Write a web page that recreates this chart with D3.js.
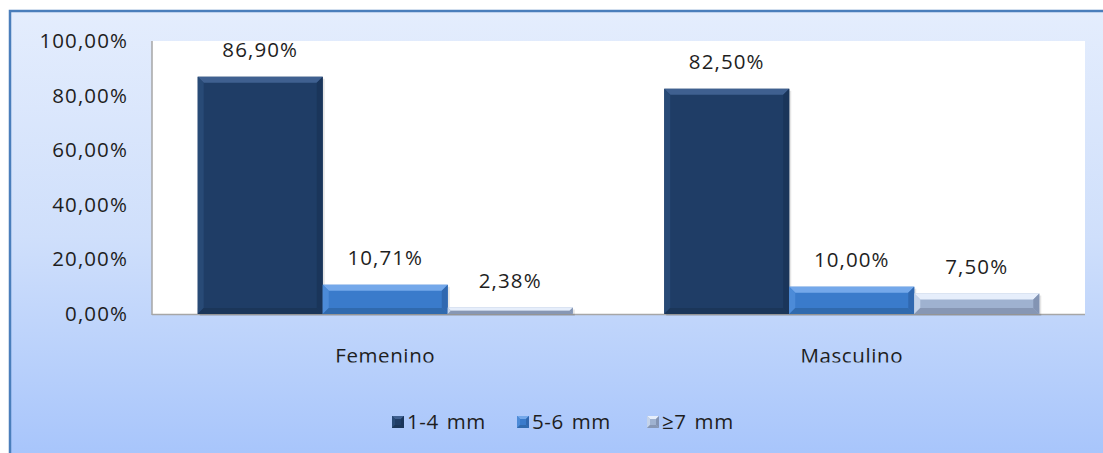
<!DOCTYPE html>
<html><head><meta charset="utf-8">
<script src="https://cdn.jsdelivr.net/npm/d3@7/dist/d3.min.js"></script>
<style>html,body{margin:0;padding:0;background:#fff;overflow:hidden}</style>
</head><body>
<svg id="c" width="1103" height="453"></svg>
<script>
const categories = ["Femenino", "Masculino"];
const seriesNames = ["1-4 mm", "5-6 mm", "≥7 mm"];
const s1 = [86.90, 82.50];
const s2 = [10.71, 10.00];
const s3 = [2.38, 7.50];
const seriesValues = [s1, s2, s3];
const yTicks = [0, 20, 40, 60, 80, 100];

const svg = d3.select("#c");
const W = 1103, H = 453;
const font = "'Open Sans','Liberation Sans',sans-serif";
const txtCol = "#1e1e1e";

const defs = svg.append("defs");
const bg = defs.append("linearGradient").attr("id","bg").attr("x1",0).attr("y1",0).attr("x2",0).attr("y2",1);
bg.append("stop").attr("offset","0%").attr("stop-color","#e4edfd");
bg.append("stop").attr("offset","50%").attr("stop-color","#cfdffb");
bg.append("stop").attr("offset","100%").attr("stop-color","#a6c4fb");

// frame
svg.append("rect").attr("x",10).attr("y",11).attr("width",W).attr("height",H)
  .attr("fill","url(#bg)").attr("stroke","#4a7ebb").attr("stroke-width",2.5);

const m = {left:152, right:1085, top:41, bottom:314};
const x0 = d3.scaleBand().domain(categories).range([m.left, m.right]).paddingInner(0.196).paddingOuter(0.098);
const x1 = d3.scaleBand().domain(d3.range(3)).range([0, x0.bandwidth()]);
const y = d3.scaleLinear().domain([0,100]).range([m.bottom, m.top]);

// plot area
svg.append("rect").attr("x",m.left).attr("y",m.top).attr("width",m.right-m.left).attr("height",m.bottom-m.top).attr("fill","#ffffff");

const fmt = v => d3.format(".2f")(v).replace(".", ",") + "%";

// y axis labels
const yAxis = d3.axisLeft(y).tickValues(yTicks).tickSize(0).tickPadding(24).tickFormat(fmt);
const ga = svg.append("g").attr("transform",`translate(${m.left},0)`).call(yAxis);
ga.select(".domain").remove();
ga.selectAll("text").attr("font-family",font).attr("font-size",20.5).attr("fill",txtCol)
  .attr("letter-spacing","1.1px");

// axis lines
svg.append("line").attr("x1",m.left).attr("x2",m.left).attr("y1",m.top).attr("y2",m.bottom+1)
  .attr("stroke","#a6a6a6").attr("stroke-width",1.5);
svg.append("line").attr("x1",m.left).attr("x2",m.right).attr("y1",m.bottom+0.5).attr("y2",m.bottom+0.5)
  .attr("stroke","#a6a6a6").attr("stroke-width",1.5);

const pal = [
  {base:"#1f3d66", top:"#3f6090", left:"#284a76", right:"#1a355a", bottom:"#1b3659"},
  {base:"#3a7bcb", top:"#74a8ea", left:"#4c8bd8", right:"#3068b0", bottom:"#306aae"},
  {base:"#9fb2d0", top:"#e6eefb", left:"#c4d3ea", right:"#8394b3", bottom:"#8797b4"}
];

function bevelBar(g, bx, by, bw, bh, c, bev) {
  const b = Math.min(bev, bh/2, bw/2);
  g.append("rect").attr("x",bx).attr("y",by).attr("width",bw).attr("height",bh).attr("fill",c.base);
  const X0=bx, X1=bx+bw, Y0=by, Y1=by+bh;
  const poly = (pts, fill) => g.append("polygon").attr("points", pts.map(p=>p.join(",")).join(" ")).attr("fill",fill);
  poly([[X0,Y0],[X1,Y0],[X1-b,Y0+b],[X0+b,Y0+b]], c.top);
  poly([[X0,Y0],[X0+b,Y0+b],[X0+b,Y1-b],[X0,Y1]], c.left);
  poly([[X1,Y0],[X1,Y1],[X1-b,Y1-b],[X1-b,Y0+b]], c.right);
  poly([[X0,Y1],[X0+b,Y1-b],[X1-b,Y1-b],[X1,Y1]], c.bottom);
}

const gb = svg.append("g");
categories.forEach((cat, ci) => {
  seriesValues.forEach((vals, si) => {
    const v = vals[ci];
    const bx = x0(cat) + x1(si);
    const bw = x1.bandwidth();
    const by = y(v);
    const bh = y(0) - y(v);
    gb.append("rect").attr("x",bx+2).attr("y",by+2).attr("width",bw).attr("height",bh).attr("fill","#000").attr("opacity",0.1);
    bevelBar(gb, bx, by, bw, bh, pal[si], 6);
    gb.append("text").attr("x",bx+bw/2).attr("y",by-27).attr("dy","0.35em").attr("text-anchor","middle")
      .attr("font-family",font).attr("font-size",20.5).attr("fill",txtCol).attr("letter-spacing","1.1px")
      .text(fmt(v));
  });
});

// category labels (clipped at bottom as in reference)
defs.append("clipPath").attr("id","catclip").append("rect").attr("x",0).attr("y",0).attr("width",W).attr("height",362.5);
const gx = svg.append("g").attr("clip-path","url(#catclip)");
categories.forEach(cat => {
  gx.append("text").attr("x",x0(cat)+x0.bandwidth()/2).attr("y",356).attr("dy","0.35em")
    .attr("text-anchor","middle").attr("font-family",font).attr("font-size",20.5).attr("fill",txtCol)
    .attr("letter-spacing","0.6px").text(cat);
});

// legend
const legX = [392, 517, 647];
const lg = svg.append("g");
seriesNames.forEach((n, i) => {
  bevelBar(lg, legX[i], 416, 12, 12, pal[i], 3);
  lg.append("text").attr("x",legX[i]+15).attr("y",422).attr("dy","0.35em")
    .attr("font-family",font).attr("font-size",20.5).attr("fill",txtCol)
    .attr("letter-spacing","0.6px").attr("word-spacing","2px").text(n);
});
</script>
</body></html>
